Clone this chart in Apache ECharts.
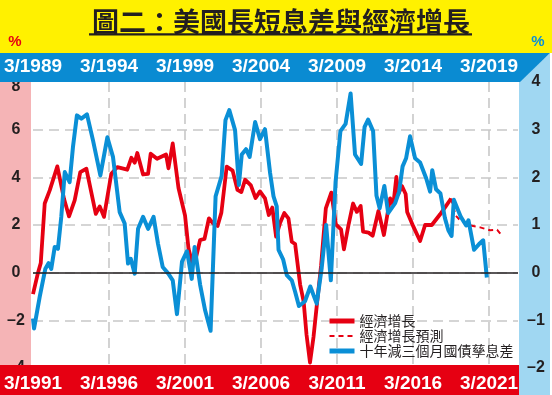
<!DOCTYPE html>
<html><head><meta charset="utf-8">
<script src="https://cdn.jsdelivr.net/npm/echarts@6/dist/echarts.min.js"></script>
<style>html,body{margin:0;padding:0;background:#fff}#c{width:552px;height:395px}</style>
</head><body><div id="c"></div>
<script>
const titleText = '圖二：美國長短息差與經濟增長';
const seriesNames = ['經濟增長', '經濟增長預測', '十年減三個月國債孳息差'];
const topLabels = ['3/1989', '3/1994', '3/1999', '3/2004', '3/2009', '3/2014', '3/2019'];
const bottomLabels = ['3/1991', '3/1996', '3/2001', '3/2006', '3/2011', '3/2016', '3/2021'];
const growthBaseYear = 1991;   // bottom axis origin (3/1991)
const spreadBaseYear = 1989;   // top axis origin (3/1989), spread leads by 2 years

// US GDP growth (yoy %), [year, value]
const growth = [[1991.00,-0.9],[1991.33,0.0],[1991.51,0.4],[1991.77,2.9],[1992.10,3.45],[1992.60,4.46],[1993.04,3.1],[1993.37,2.36],[1993.74,3.03],[1994.11,4.22],[1994.51,4.36],[1995.13,2.47],[1995.39,2.78],[1995.67,2.34],[1996.15,4.15],[1996.55,4.43],[1997.20,4.32],[1997.47,4.82],[1997.69,4.61],[1997.86,5.02],[1998.24,4.12],[1998.57,4.15],[1998.74,4.99],[1999.16,4.78],[1999.75,4.96],[1999.91,4.38],[2000.19,5.42],[2000.57,3.55],[2001.00,2.4],[2001.23,1.0],[2001.49,0.36],[2001.69,0.55],[2001.99,1.37],[2002.28,1.42],[2002.57,2.28],[2002.84,2.07],[2003.14,1.96],[2003.39,2.52],[2003.74,4.45],[2004.13,4.28],[2004.45,3.47],[2004.70,3.38],[2004.95,3.9],[2005.33,3.66],[2005.64,3.13],[2005.93,3.41],[2006.26,3.12],[2006.51,2.42],[2006.74,2.73],[2006.99,1.51],[2007.25,2.08],[2007.53,2.5],[2007.80,2.28],[2008.02,1.3],[2008.24,1.2],[2008.57,-0.5],[2008.80,-1.2],[2008.99,-2.6],[2009.22,-3.77],[2009.45,-2.7],[2009.66,-1.41],[2009.95,0.3],[2010.26,2.7],[2010.62,3.36],[2010.92,2.03],[2011.26,1.82],[2011.45,0.98],[2011.74,1.96],[2012.05,2.9],[2012.30,2.55],[2012.55,2.8],[2012.71,1.72],[2013.07,1.68],[2013.34,1.55],[2013.72,2.59],[2014.08,1.58],[2014.49,3.12],[2014.70,2.85],[2014.90,4.02],[2015.03,3.3],[2015.26,3.64],[2015.51,3.3],[2015.61,2.55],[2016.02,1.93],[2016.46,1.33],[2016.79,2.0],[2017.23,2.0],[2017.78,2.45],[2018.17,2.8],[2018.50,3.11]];

// GDP growth forecast (yoy %), [year, value]
const growthForecast = [[2018.50,3.11],[2018.80,2.4],[2019.10,2.19],[2019.75,1.98],[2020.41,1.9],[2021.07,1.78],[2021.53,1.8],[2021.82,1.57]];

// 10y minus 3m Treasury yield spread (%), [year, value]
const spread = [[1989.00,-0.96],[1989.07,-1.17],[1989.44,-0.51],[1989.81,0.08],[1990.03,0.2],[1990.20,0.08],[1990.43,0.54],[1990.64,0.5],[1990.86,1.17],[1991.09,2.11],[1991.41,1.9],[1991.63,2.64],[1991.89,3.3],[1992.18,3.23],[1992.55,3.32],[1992.95,2.77],[1993.43,2.04],[1993.89,2.84],[1994.26,2.43],[1994.70,1.27],[1995.03,1.03],[1995.25,0.19],[1995.43,0.29],[1995.69,-0.02],[1995.91,0.92],[1996.24,1.17],[1996.57,0.92],[1996.93,1.17],[1997.22,0.61],[1997.53,0.12],[1997.90,-0.02],[1998.19,-0.16],[1998.47,-0.87],[1998.80,0.23],[1999.13,0.45],[1999.44,-0.13],[1999.63,0.54],[1999.99,-0.25],[2000.32,-0.79],[2000.68,-1.22],[2001.01,1.6],[2001.41,2.03],[2001.66,3.2],[2001.91,3.41],[2002.29,2.99],[2002.54,1.84],[2002.73,2.48],[2003.01,2.59],[2003.25,2.43],[2003.61,3.16],[2003.93,2.8],[2004.26,3.01],[2004.59,2.1],[2004.82,1.6],[2005.03,1.39],[2005.15,0.48],[2005.45,0.28],[2005.69,-0.05],[2006.02,-0.16],[2006.24,-0.4],[2006.49,-0.7],[2006.89,-0.6],[2007.24,-0.29],[2007.66,-0.65],[2007.99,0.1],[2008.28,1.0],[2008.59,-0.16],[2008.90,1.9],[2009.22,2.97],[2009.56,3.12],[2009.89,3.76],[2010.18,2.48],[2010.58,2.28],[2010.81,3.06],[2011.04,3.21],[2011.37,2.97],[2011.59,1.62],[2011.80,1.35],[2012.11,1.82],[2012.36,1.25],[2012.82,1.46],[2013.08,1.7],[2013.31,2.23],[2013.54,2.4],[2013.80,2.86],[2014.13,2.4],[2014.46,2.31],[2014.86,1.98],[2015.12,1.7],[2015.26,2.15],[2015.51,1.75],[2015.80,1.66],[2016.09,1.15],[2016.32,0.89],[2016.53,0.77],[2016.68,1.53],[2017.14,1.17],[2017.49,0.99],[2017.64,1.1],[2018.01,0.48],[2018.34,0.6],[2018.61,0.68],[2018.85,-0.1]];

const RED = '#e60012', BLUE = '#0a8fd6', BAND_BLUE = '#0a8bd2';
const PINK = '#f5b4b6', LIGHT_BLUE = '#a0d7f2', YELLOW = '#fff100';
const NUM_FONT = '"Liberation Sans", Arial, sans-serif';
const CJK_FONT = '"Noto Sans CJK TC", "Noto Sans CJK SC", sans-serif';
const GRID_COLOR = '#c8c8c8';

const X_MAX = 31.9, X_STEP = 5;
const fmtNeg = v => (v < 0 ? '\u2013' + Math.abs(v) : String(v));
const labelFrom = arr => v => {
  const i = Math.round(v / X_STEP);
  return Math.abs(v - i * X_STEP) < 1e-6 && arr[i] ? arr[i] : '';
};

const chart = echarts.init(document.getElementById('c'), null, {renderer: 'canvas'});
const xLabelStyle = {color: '#fff', fontFamily: NUM_FONT, fontWeight: 'bold', fontSize: 19, verticalAlign: 'middle'};
const yLabelBase = {color: '#231f20', fontFamily: NUM_FONT, fontWeight: 'bold', fontSize: 16, align: 'center'};

chart.setOption({
  animation: false,
  backgroundColor: '#fff',
  grid: {left: 33, right: 34, top: 82, bottom: 27, containLabel: false, outerBoundsMode: 'none'},
  xAxis: [
    {type: 'value', position: 'bottom', min: 0, max: X_MAX, interval: X_STEP, z: 60,
     axisLine: {show: false}, axisTick: {show: false}, splitLine: {show: false},
     axisLabel: Object.assign({margin: 16, formatter: labelFrom(bottomLabels)}, xLabelStyle)},
    {type: 'value', position: 'top', min: 0, max: X_MAX, interval: X_STEP, z: 60,
     axisLine: {show: false}, axisTick: {show: false}, splitLine: {show: false},
     axisLabel: Object.assign({margin: 15, formatter: labelFrom(topLabels)}, xLabelStyle)},
    {type: 'value', position: 'bottom', min: 0, max: X_MAX, interval: X_STEP, z: 0,
     axisLine: {show: false}, axisTick: {show: false}, axisLabel: {show: false},
     splitLine: {show: true, showMinLine: false, showMaxLine: false,
       lineStyle: {color: GRID_COLOR, width: 1.6, type: [10, 6]}}}
  ],
  yAxis: [
    {type: 'value', min: -4, max: 8, interval: 2, z: 1,
     axisLine: {show: false}, axisTick: {show: false},
     axisLabel: Object.assign({margin: 17,
       formatter: v => (v === 8 ? '{top|' + v + '}' : fmtNeg(v)),
       rich: {top: Object.assign({padding: [10, 0, 0, 0]}, yLabelBase)}}, yLabelBase),
     splitLine: {show: true, showMinLine: false, showMaxLine: false,
       lineStyle: {color: GRID_COLOR, width: 1.6, type: [10, 6]}}},
    {type: 'value', position: 'right', min: -2, max: 4, interval: 1, z: 1,
     axisLine: {show: false}, axisTick: {show: false},
     axisLabel: Object.assign({margin: 18, formatter: fmtNeg}, yLabelBase),
     splitLine: {show: false}}
  ],
  legend: {
    orient: 'vertical', left: 327, top: 314, padding: 0,
    itemWidth: 25, itemHeight: 14, itemGap: 1, selectedMode: false,
    itemStyle: {opacity: 0},
    textStyle: {fontSize: 14, color: '#231f20', fontFamily: CJK_FONT},
    data: [
      {name: seriesNames[0], lineStyle: {width: 5}, itemStyle: {opacity: 0}},
      {name: seriesNames[1], lineStyle: {width: 2, type: [5, 4]}, itemStyle: {opacity: 0}},
      {name: seriesNames[2], lineStyle: {width: 5}, itemStyle: {opacity: 0}}
    ]
  },
  graphic: [
    {type: 'rect', z: 0, shape: {x: 0, y: 0, width: 552, height: 53}, style: {fill: YELLOW}},
    {type: 'rect', z: 0, shape: {x: 0, y: 82, width: 31, height: 284}, style: {fill: PINK}},
    {type: 'polygon', z: 0, shape: {points: [[519, 82], [550, 53], [550, 395], [519, 395]]}, style: {fill: LIGHT_BLUE}},
    {type: 'polygon', z: 50, shape: {points: [[0, 53], [550, 53], [520, 82], [0, 82]]}, style: {fill: BAND_BLUE}},
    {type: 'rect', z: 50, shape: {x: 0, y: 365, width: 519, height: 30}, style: {fill: RED}},
    {type: 'text', z: 70,
     style: {text: titleText, x: 281, y: 21.5, align: 'center', verticalAlign: 'middle',
       fill: '#231f20', font: 'bold 27px ' + CJK_FONT}},
    {type: 'rect', z: 70, shape: {x: 89, y: 33.3, width: 383, height: 2.3}, style: {fill: '#231f20'}},
    {type: 'text', z: 70, style: {text: '%', x: 15, y: 41.5, align: 'center', verticalAlign: 'middle',
       fill: RED, font: 'bold 15px ' + NUM_FONT}},
    {type: 'text', z: 70, style: {text: '%', x: 538, y: 41.5, align: 'center', verticalAlign: 'middle',
       fill: BLUE, font: 'bold 15px ' + NUM_FONT}}
  ],
  series: [
    {type: 'line', name: seriesNames[0], xAxisIndex: 0, yAxisIndex: 0, symbol: 'none', z: 2,
     data: growth.map(([y, v]) => [y - growthBaseYear, v]),
     lineStyle: {color: RED, width: 3.8, join: 'round'}, itemStyle: {color: RED},
     markLine: {silent: true, symbol: ['none', 'none'], label: {show: false}, animation: false,
       lineStyle: {color: '#231f20', width: 1.5, type: 'solid'}, data: [{yAxis: 0}]}},
    {type: 'line', name: seriesNames[1], xAxisIndex: 0, yAxisIndex: 0, symbol: 'none', z: 2,
     data: growthForecast.map(([y, v]) => [y - growthBaseYear, v]),
     lineStyle: {color: RED, width: 2, type: [5, 4]}, itemStyle: {color: RED}},
    {type: 'line', name: seriesNames[2], xAxisIndex: 0, yAxisIndex: 1, symbol: 'none', z: 3,
     data: spread.map(([y, v]) => [y - spreadBaseYear, v]),
     lineStyle: {color: BLUE, width: 4, join: 'round'}, itemStyle: {color: BLUE}}
  ]
});
</script>
</body></html>
